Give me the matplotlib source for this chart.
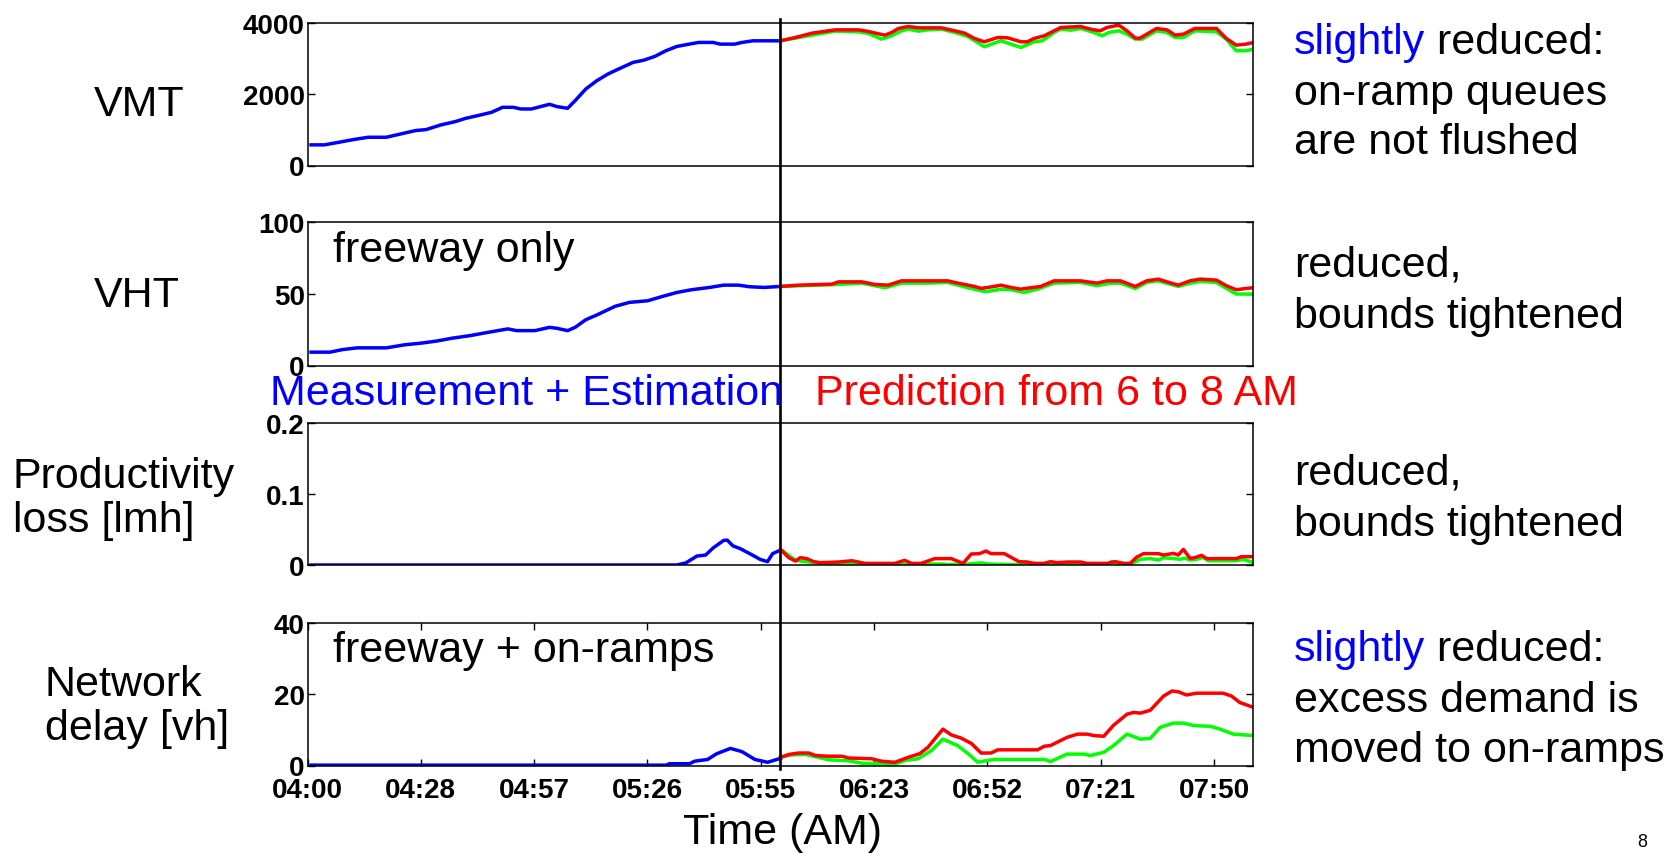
import matplotlib
matplotlib.use('Agg')
import matplotlib.pyplot as plt
from matplotlib.lines import Line2D
from matplotlib.transforms import blended_transform_factory

plt.rcParams['font.family'] = ['Liberation Sans', 'DejaVu Sans']

# ---------------- data (minutes after 04:00) ----------------
xtick_minutes = [0, 28.75, 57.5, 86.25, 115, 143.75, 172.5, 201.25, 230]
xtick_labels = ['04:00', '04:28', '04:57', '05:26', '05:55', '06:23', '06:52', '07:21', '07:50']
split_minute = 120

# VMT
vmt_meas_t = [0.9, 4.3, 8, 11.7, 15.4, 20, 23.7, 27.4, 30.1, 33.8, 37.5, 40.2, 43.9, 46.7, 49.5,
              52.2, 54.1, 56.8, 59.1, 61.4, 63.3, 66, 67.9, 70.6, 73.4, 76.2, 78.9, 82.6, 85.4, 88.1,
              90.9, 93.7, 96.4, 99.2, 102.9, 104.7, 108.4, 110.2, 113, 120]
vmt_meas = [577, 577, 651, 726, 790, 790, 884, 977, 1005, 1135, 1228, 1321, 1414, 1488, 1628,
            1628, 1581, 1581, 1647, 1712, 1647, 1600, 1814, 2140, 2372, 2558, 2698, 2884, 2949, 3051,
            3209, 3330, 3386, 3442, 3442, 3395, 3395, 3442, 3488, 3488]
vmt_upper_t = [120, 123.8, 128, 133.9, 139.8, 142.3, 144.8, 146.5, 148.2, 149.9, 152.4, 155, 160.8,
               164.2, 166.7, 169.2, 171.7, 175.1, 177.6, 181, 182.6, 184.3, 186.9, 189.4, 191.1, 196.1,
               198.6, 201.1, 202.8, 205.8, 207.9, 210, 211.2, 215.4, 218, 220.1, 222.2, 225.1, 230.6,
               233.1, 235.6, 238.1, 240]
vmt_upper = [3488, 3581, 3702, 3795, 3795, 3749, 3684, 3647, 3721, 3833, 3888, 3851, 3851,
             3767, 3702, 3553, 3460, 3581, 3572, 3460, 3460, 3553, 3628, 3767, 3860, 3888,
             3814, 3767, 3860, 3926, 3767, 3563, 3563, 3833, 3795, 3647, 3674, 3833, 3833,
             3553, 3367, 3395, 3442]
vmt_lower_t = [120, 128, 133.9, 139.8, 142.3, 145.6, 148.2, 150.7, 152.4, 155, 157.4, 160.8, 164.2,
               167.5, 171.7, 175.9, 181, 184.3, 186.4, 189.4, 191.1, 193.6, 196.1, 199.5, 201.6,
               203.3, 205.8, 207.9, 210, 211.7, 215.4, 218, 220.1, 222.2, 225.1, 230.6, 233.1,
               235.6, 238.1, 240]
vmt_lower = [3488, 3647, 3758, 3740, 3693, 3535, 3628, 3767, 3814, 3758, 3795, 3814, 3721,
             3609, 3321, 3488, 3302, 3460, 3488, 3721, 3814, 3786, 3833, 3721, 3628,
             3721, 3767, 3674, 3535, 3535, 3767, 3721, 3581, 3581, 3767, 3740, 3535,
             3209, 3209, 3256]

# VHT
vht_meas_t = [0.9, 5.7, 8.9, 12.6, 20, 24.6, 29.2, 32.9, 36.6, 41.2, 45.8, 50.8, 53.1, 57.7, 61.4,
              63.3, 66, 67.9, 70.6, 73.4, 78, 81.7, 86.3, 90, 93.7, 97.4, 102, 105.6, 109.3, 112.1,
              115.8, 120]
vht_meas = [9.3, 9.3, 11.1, 12.3, 12.3, 14.4, 15.7, 17.1, 19, 20.8, 23.1, 25.5, 24.3, 24.3, 26.6,
            25.9, 24.3, 26.6, 31.9, 35.2, 41.2, 44, 45.1, 48.1, 50.9, 52.8, 54.4, 56, 56, 54.9,
            54.4, 55.1]
vht_upper_t = [120, 124.6, 133, 134.7, 140.6, 143.9, 147.3, 150.7, 162.4, 165, 169.2, 170.9, 174.2,
               175.9, 178.4, 180.9, 183.5, 186, 189.4, 196.1, 200.3, 202.8, 206.2, 210, 212.9,
               215.8, 218, 220.9, 223.9, 226.4, 230.6, 233.1, 235.6, 238.1, 240]
vht_upper = [55.1, 56, 56.7, 58.3, 58.3, 56.5, 56, 59, 59, 57.4, 55.1, 53.7, 55.1,
             56, 54.4, 53.2, 54.2, 55.1, 59, 59, 57.4, 59, 59, 55.1, 59,
             60.2, 58.3, 56, 59, 60.2, 59.5, 55.6, 52.8, 53.7, 54.2]
vht_lower_t = [120, 133, 140.6, 143.1, 146.5, 150.7, 157.4, 162.4, 167.5, 172.1, 175.9, 178.4, 181.8,
               185.2, 189.4, 196.1, 200.3, 203.7, 206.2, 210, 212.9, 215.8, 220.9, 223.9, 226.4,
               230.6, 233.1, 235.6, 240]
vht_lower = [55.1, 56.3, 57.4, 56, 54.2, 57.4, 57.4, 57.9, 54.2, 51.4, 53.2, 52.8, 50.9,
             53.2, 57.4, 57.9, 55.6, 57.4, 57.4, 53.7, 57.9, 59, 55.1, 57.4, 58.6,
             57.9, 53.7, 49.8, 49.8]

# Productivity loss
prod_meas_t = [0.9, 93.7, 96, 98.8, 101, 102.9, 105.6, 106.5, 107.9, 109.8, 113, 114.8, 116.7, 118, 120]
prod_meas = [0, 0, 0.003, 0.0126, 0.014, 0.024, 0.0347, 0.035, 0.027, 0.023, 0.0136, 0.008,
             0.0047, 0.016, 0.021]
prod_upper_t = [120, 122.1, 123.8, 125, 126.7, 128.4, 130.1, 134.7, 138.1, 141.4, 149, 151.5, 153.2,
                155.7, 159.1, 163.3, 166.3, 168.4, 170.5, 172.1, 173.4, 176.8, 180.5, 182.6, 184.3,
                186.9, 188.5, 190.2, 192.7, 196.1, 197.8, 202.8, 204.9, 207.1, 208.7, 210.4, 212.1,
                215.9, 217.1, 219.7, 220.9, 222.2, 223.9, 225.1, 226.8, 228.1, 235.6, 236.9, 240]
prod_upper = [0.022, 0.0103, 0.0056, 0.0103, 0.009, 0.0047, 0.0033, 0.0042, 0.006, 0.0023,
              0.0023, 0.0066, 0.0023, 0.0023, 0.009, 0.009, 0.0023, 0.0155, 0.016, 0.0197,
              0.016, 0.016, 0.0047, 0.0042, 0.0023, 0.0023, 0.0047, 0.0033, 0.0042, 0.0042,
              0.0023, 0.0023, 0.0047, 0.0023, 0.0023, 0.0112, 0.016, 0.016, 0.014, 0.0164,
              0.014, 0.022, 0.0094, 0.0103, 0.0136, 0.009, 0.009, 0.0117, 0.0117]
prod_lower_t = [120, 123.8, 126.3, 128.8, 132.2, 140.6, 150.7, 152.4, 157.4, 160.8, 162.4, 167.5,
                171, 172.7, 177.6, 202.8, 204, 205.3, 208.7, 211.2, 213.7, 215.9, 217.1, 219.7,
                221.3, 222.6, 223.9, 225.6, 227.2, 228.5, 235.6, 237.3, 240]
prod_lower = [0.022, 0.0066, 0.0047, 0.0033, 0.0023, 0.0014, 0.0014, 0.0005, 0.0014, 0.0014,
              0.0005, 0.0014, 0.003, 0.0014, 0.0005, 0.001, 0.005, 0.001, 0.001, 0.008,
              0.009, 0.007, 0.0103, 0.009, 0.008, 0.0094, 0.007, 0.008, 0.0108, 0.006,
              0.006, 0.008, 0.0033]

# Network delay
delay_meas_t = [0.9, 91, 91.8, 96.9, 98.2, 101.5, 103.8, 107.3, 110.2, 113.5, 116.7, 120]
delay_meas = [0.1, 0.1, 0.5, 0.5, 1.2, 1.7, 3.3, 4.8, 3.9, 1.7, 0.9, 2.0]
delay_upper_t = [120, 122.1, 124.6, 127.2, 128.8, 132.2, 135.6, 137.3, 143.1, 145.6, 149, 152.4,
                 155.3, 157.4, 159.1, 161.2, 163.3, 165.8, 168.4, 170.9, 173.4, 175.1, 185.2,
                 186.9, 188.5, 192.7, 195.3, 197.8, 199.5, 202, 204.5, 207.9, 209.6, 211.3,
                 213.8, 217.2, 219.3, 220.9, 223, 225.6, 232.3, 234.4, 236.5, 240]
delay_upper = [2.3, 3.1, 3.5, 3.5, 2.8, 2.6, 2.6, 2.1, 1.9, 1.2, 0.9, 2.3,
               3.3, 5.1, 7.4, 10.2, 8.6, 7.7, 6.2, 3.5, 3.5, 4.4, 4.4,
               5.4, 5.6, 7.9, 8.8, 8.8, 8.4, 8.2, 11.3, 14.4, 14.9, 14.7,
               15.5, 19.5, 20.9, 20.7, 19.8, 20.3, 20.3, 19.5, 17.7, 16.3]
delay_lower_t = [120, 122.9, 126.3, 128.8, 132.2, 137.3, 140.6, 149, 151.5, 154.9, 158.3, 161.2,
                 164.9, 167.5, 170, 174.2, 186.9, 188.5, 192.7, 196.9, 198.6, 202, 204.5, 207.9,
                 211.3, 213.8, 216.3, 219.7, 222.2, 224.8, 229, 231.5, 234.9, 240]
delay_lower = [2.3, 3.0, 3.1, 2.5, 1.6, 1.3, 0.65, 0.37, 1.4, 1.9, 4.2, 7.4,
               5.6, 3.4, 0.93, 1.7, 1.7, 1.1, 3.2, 3.2, 2.8, 3.7, 5.6, 8.8,
               7.4, 7.6, 10.7, 11.9, 11.9, 11.2, 11, 10.2, 8.8, 8.4]

panel_ylims = [(0, 4000), (0, 100), (0, 0.2), (0, 40)]
panel_yticks = [[0, 2000, 4000], [0, 50, 100], [0, 0.1, 0.2], [0, 20, 40]]
panel_yticklabels = [['0', '2000', '4000'], ['0', '50', '100'], ['0', '0.1', '0.2'], ['0', '20', '40']]

# ---------------- figure ----------------
W, H = 1674, 854
fig = plt.figure(figsize=(W / 100, H / 100), dpi=100)

def fx(px):
    return px / W

def fy(py):
    return 1 - py / H

left_px, right_px = 307.5, 1253.5
panel_px = [(23.5, 166.5), (223, 366.5), (424, 566), (624, 766.5)]

series = [
    (vmt_meas_t, vmt_meas, vmt_lower_t, vmt_lower, vmt_upper_t, vmt_upper),
    (vht_meas_t, vht_meas, vht_lower_t, vht_lower, vht_upper_t, vht_upper),
    (prod_meas_t, prod_meas, prod_lower_t, prod_lower, prod_upper_t, prod_upper),
    (delay_meas_t, delay_meas, delay_lower_t, delay_lower, delay_upper_t, delay_upper),
]

axes = []
for i, (top, bot) in enumerate(panel_px):
    ax = fig.add_axes([fx(left_px), fy(bot), fx(right_px - left_px), (bot - top) / H])
    mt, mv, lt, lv, ut, uv = series[i]
    ax.plot(mt, mv, color='#0000ff', lw=2.5, solid_joinstyle='round')
    ax.plot(lt, lv, color='#00ff00', lw=2.5, solid_joinstyle='round')
    ax.plot(ut, uv, color='#ff0000', lw=2.5, solid_joinstyle='round')
    ax.set_xlim(0, 240)
    ax.set_ylim(*panel_ylims[i])
    ax.set_yticks(panel_yticks[i])
    ax.set_yticklabels(panel_yticklabels[i], fontweight='bold', fontsize=20)
    ax.tick_params(axis='y', direction='in', left=True, right=True, length=5, width=1, pad=2)
    ax.set_xticks(xtick_minutes)
    if i == 3:
        ax.set_xticklabels(xtick_labels, fontweight='bold', fontsize=20)
        ax.tick_params(axis='x', direction='in', top=True, bottom=True, length=5, width=1, pad=8)
    else:
        ax.set_xticklabels([])
        ax.tick_params(axis='x', length=0)
    for s in ax.spines.values():
        s.set_linewidth(1.1)
    axes.append(ax)

# vertical split line across all panels
tr = blended_transform_factory(axes[0].transData, fig.transFigure)
fig.add_artist(Line2D([split_minute, split_minute], [fy(20), fy(770)], transform=tr,
                      color='black', lw=1.9))

FS = 31
# left labels
fig.text(fx(94), fy(104.6), 'VMT', fontsize=FS, ha='left', va='center')
fig.text(fx(94), fy(295.7), 'VHT', fontsize=FS, ha='left', va='center')
fig.text(fx(13), fy(499), 'Productivity\nloss [lmh]', fontsize=FS, ha='left', va='center',
         linespacing=1.15)
fig.text(fx(45), fy(707), 'Network\ndelay [vh]', fontsize=FS, ha='left', va='center',
         linespacing=1.15)

# in-panel annotations
fig.text(fx(333), fy(251), 'freeway only', fontsize=FS, ha='left', va='center')
fig.text(fx(333), fy(651), 'freeway + on-ramps', fontsize=FS, ha='left', va='center')

# middle labels
fig.text(fx(270), fy(394), 'Measurement + Estimation', fontsize=FS, ha='left', va='center',
         color='#0000ff')
fig.text(fx(815), fy(394), 'Prediction from 6 to 8 AM', fontsize=FS, ha='left', va='center',
         color='#ff0000')

# x label
fig.text(fx(782.5), fy(833), 'Time (AM)', fontsize=FS, ha='center', va='center')

# right notes
RX = 1294

def mixed_line(y, blue_part, black_part):
    t1 = fig.text(fx(RX), fy(y), blue_part, fontsize=FS, ha='left', va='center', color='#0000ff')
    fig.add_artist(matplotlib.text.Annotation(black_part, xy=(1, 0.5), xycoords=t1,
                                              fontsize=FS, ha='left', va='center', color='black'))

mixed_line(43, 'slightly', ' reduced:')
fig.text(fx(RX), fy(94), 'on-ramp queues', fontsize=FS, ha='left', va='center')
fig.text(fx(RX), fy(143), 'are not flushed', fontsize=FS, ha='left', va='center')

fig.text(fx(RX), fy(266), 'reduced,', fontsize=FS, ha='left', va='center')
fig.text(fx(RX), fy(317), 'bounds tightened', fontsize=FS, ha='left', va='center')

fig.text(fx(RX), fy(474), 'reduced,', fontsize=FS, ha='left', va='center')
fig.text(fx(RX), fy(525), 'bounds tightened', fontsize=FS, ha='left', va='center')

mixed_line(650, 'slightly', ' reduced:')
fig.text(fx(RX), fy(701), 'excess demand is', fontsize=FS, ha='left', va='center')
fig.text(fx(RX), fy(751), 'moved to on-ramps', fontsize=FS, ha='left', va='center')

# page number
fig.text(fx(1642), fy(843), '8', fontsize=13, ha='center', va='center')

fig.savefig('out.png', dpi=100)
